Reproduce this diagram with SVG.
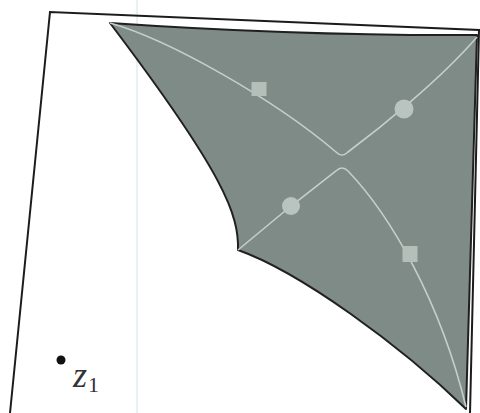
<svg xmlns="http://www.w3.org/2000/svg" width="480" height="413" viewBox="0 0 480 413">
<style>
.frame{fill:none;stroke:#1c1c1c;stroke-width:2}
.region{fill:#7f8b87;stroke:#202020;stroke-width:2;stroke-linejoin:round}
.geo{fill:none;stroke:#c5cfcb;stroke-width:1.6}
.sq{fill:#b4bfba}
.ci{fill:#b9c3bf}
</style>
<rect width="480" height="413" fill="#ffffff"/>
<line x1="137" y1="0" x2="137" y2="413" stroke="#e8f1f4" stroke-width="2"/>
<g id="frame">
<path class="frame" d="M10,413 L50,12 L479,30 L470,413"/>
</g>
<g id="region">
<path class="region" d="M110,23 Q300,36 477,35 Q472,220 466,409 C400,345 300,272 238,250 C239,215 225,175 110,23 Z"/>
</g>
<g id="connectors">
<path class="geo" d="M110,23 C170,40 275,100 336,152 Q342,158 348,152 C380,128 440,80 477,37"/>
<path class="geo" d="M238,250 L291,206 L336,171 Q342,165 348,171 C390,215 440,300 466,407"/>
</g>
<g id="marker-s1"><rect class="sq" x="251.5" y="82" width="15" height="14"/></g>
<g id="marker-c1"><circle class="ci" cx="404" cy="109" r="9.5"/></g>
<g id="marker-c2"><circle class="ci" cx="291" cy="206" r="9"/></g>
<g id="marker-s2"><rect class="sq" x="402.5" y="246" width="15" height="16"/></g>
<g id="point-z1">
<circle cx="61" cy="360" r="4.5" fill="#111"/>
<text x="73" y="387" font-family="'Liberation Serif','DejaVu Serif',serif" font-style="italic" font-size="36" fill="#333">z</text>
<text x="88" y="392" font-family="'Liberation Serif','DejaVu Serif',serif" font-size="22" fill="#333">1</text>
</g>
</svg>
